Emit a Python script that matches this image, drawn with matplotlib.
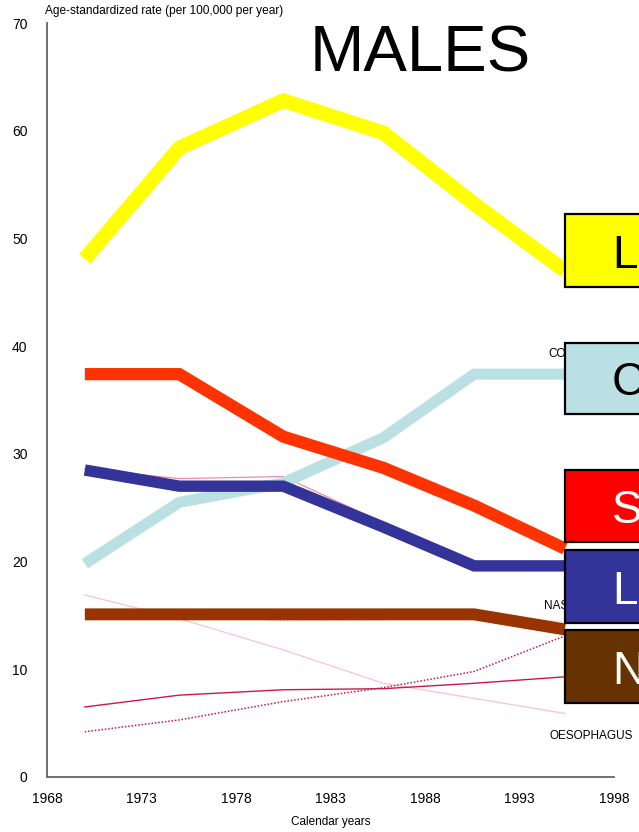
import matplotlib
matplotlib.use("Agg")
import matplotlib.pyplot as plt
from matplotlib.patches import Rectangle

plt.rcParams["font.family"] = ["Liberation Sans", "DejaVu Sans"]

# ── Data (age-standardized rate per 100,000 per year) ─────────────────────
years      = [1970, 1975, 1980.5, 1985.8, 1990.6, 1995.4]
lung       = [48.1, 58.4, 62.8, 59.8, 53.2, 47.0]
colon      = [19.8, 25.5, 27.3, 31.5, 37.4, 37.4]
stomach    = [37.4, 37.4, 31.6, 28.7, 25.2, 21.2]
larynx     = [28.5, 27.0, 27.0, 23.2, 19.6, 19.6]
nasophar   = [15.1, 15.1, 15.1, 15.1, 15.1, 13.7]
oesophagus = [16.9, 14.7, 11.8, 8.7, 7.3, 5.9]
thin_solid = [6.5, 7.6, 8.1, 8.2, 8.7, 9.3]
thin_dot   = [4.2, 5.3, 7.0, 8.3, 9.8, 13.1]
ghost_lar  = [28.6, 27.7, 27.9, 23.6, 19.4, 19.3]
ghost_nas  = [15.3, 15.2, 14.5, 14.6, 15.2, 14.4]

xticks = [1968, 1973, 1978, 1983, 1988, 1993, 1998]
yticks = [0, 10, 20, 30, 40, 50, 60, 70]

# box legend: (label letter, face colour, text colour, top px, bottom px)
box_letters = ["L", "C", "S", "L", "N"]
box_colors  = ["#FFFF00", "#BBE0E3", "#FF0000", "#333399", "#663300"]
box_text    = ["black", "black", "white", "white", "white"]
box_tops    = [214, 343, 470, 550, 630]
box_bots    = [287, 414, 542, 623, 703]

W, H = 639, 832


def fx(px):
    return px / W


def fy(py):
    return 1 - py / H


fig = plt.figure(figsize=(W / 100, H / 100), dpi=100)
ax = fig.add_axes([fx(47), fy(777), fx(614) - fx(47), fy(23) - fy(777)])

# thin background series
ax.plot(years, ghost_nas, color="#F5B3C6", lw=0.9, ls=":", zorder=1)
ax.plot(years, ghost_lar, color="#F08CA8", lw=0.9, zorder=1)
ax.plot(years, oesophagus, color="#F9C3D2", lw=0.9, zorder=1)
ax.plot(years, thin_solid, color="#C8194B", lw=1.0, zorder=2)
ax.plot(years, thin_dot, color="#C8194B", lw=1.1, ls=(0, (1, 1.2)), zorder=2)

# thick main series
kw = dict(solid_capstyle="butt", solid_joinstyle="miter")
ax.plot(years, colon, color="#BBE0E3", lw=8.0, zorder=3, **kw)
ax.plot(years, larynx, color="#333399", lw=8.2, zorder=4, **kw)
ax.plot(years, stomach, color="#FF3300", lw=8.8, zorder=5, **kw)
ax.plot(years, nasophar, color="#993300", lw=8.6, zorder=5, **kw)
ax.plot(years, lung, color="#FFFF00", lw=10.5, zorder=6, **kw)

ax.set_xlim(1968, 1998)
ax.set_ylim(0, 70)
ax.set_xticks(xticks)
ax.set_yticks(yticks)
ax.tick_params(length=0, labelsize=10)
ax.tick_params(axis="y", pad=14)
ax.tick_params(axis="x", pad=11)
for s in ["top", "right"]:
    ax.spines[s].set_visible(False)
for s in ["left", "bottom"]:
    ax.spines[s].set_color("#666666")
    ax.spines[s].set_linewidth(1.3)

# axis titles
fig.text(fx(45), fy(11), "Age-standardized rate (per 100,000 per year)",
         fontsize=8.6, ha="left", va="center")
fig.text(fx(331), fy(822), "Calendar years", fontsize=8.5,
         ha="center", va="center")
fig.text(fx(420), fy(55), "MALES", fontsize=47, ha="center", va="center")

# small series labels (partly under boxes)
fig.text(fx(548), fy(354), "CO", fontsize=8.5, ha="left", va="center")
fig.text(fx(544), fy(606), "NAS", fontsize=8.5, ha="left", va="center")
fig.text(fx(550), fy(736), "OESOPHAGUS", fontsize=8.5, ha="left",
         va="center")

# coloured boxes on the right edge
for letter, fc, tc, top, bot in zip(box_letters, box_colors, box_text,
                                     box_tops, box_bots):
    r = Rectangle((fx(565), fy(bot)), fx(100), fy(top) - fy(bot),
                  transform=fig.transFigure, facecolor=fc,
                  edgecolor="black", linewidth=1.6, zorder=10)
    fig.add_artist(r)
    mid = (top + bot) / 2
    fig.text(fx(612), fy(mid + 17), letter, fontsize=33, color=tc,
             ha="left", va="baseline", zorder=11)

fig.savefig("out.png", dpi=100)
